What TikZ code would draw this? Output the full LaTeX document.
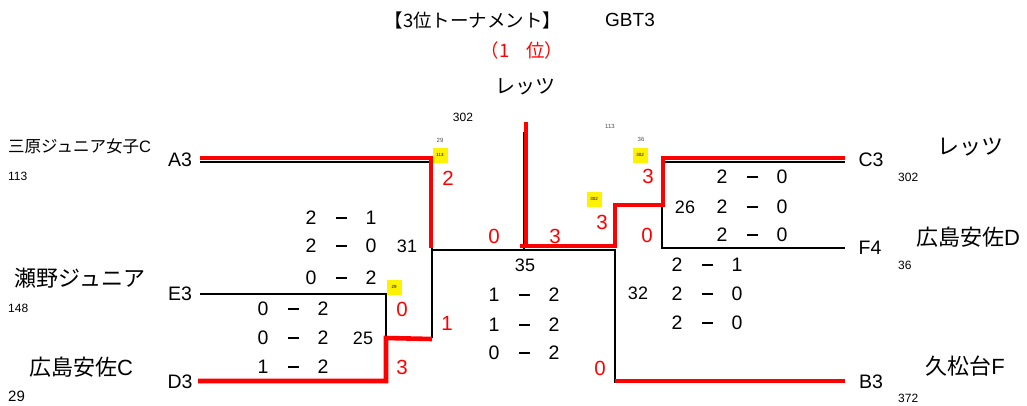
\documentclass[tikz,border=0pt]{standalone}
\usepackage{fontspec}
\setmainfont{Liberation Sans}
\newfontfamily\jp{Noto Sans CJK JP}
\newcommand\fs[1]{\fontsize{#1}{#1}\selectfont}
\newcommand\myscore[5]{%
  \node[sc] (#1a) at (#2,#3) {#4};
  \node[minusbar] (#1d) at (#2+30,#3) {};
  \node[sc] (#1b) at (#2+60,#3) {#5};}
\tikzset{
  blk/.style={line width=1.6pt, black},
  redl/.style={line width=4.6pt, red},
  sc/.style={inner sep=0pt, font=\fs{19.5}},
  minusbar/.style={inner sep=0pt, fill=black, minimum width=11pt, minimum height=1.6pt},
  team/.style={inner sep=0pt, font=\fs{19.5}},
  jname/.style={inner sep=0pt, font=\fs{22}},
  small/.style={inner sep=0pt, font=\fs{12}},
  rnum/.style={inner sep=0pt, font=\fs{20.5}, text=red},
  mnum/.style={inner sep=0pt, font=\fs{18}},
  ybox/.style={fill=yellow, minimum size=15pt, inner sep=0pt, font=\fs{4.5}},
  tiny/.style={inner sep=0pt, font=\fs{6}, text=black!70},
}
\begin{document}
\begin{tikzpicture}[x=1pt,y=-1pt]
\useasboundingbox (0,0) rectangle (1027,405);
% titles
\node[inner sep=0pt, font=\fs{18.5}] (title) at (473,20) {\jp 【3位トーナメント】};
\node[inner sep=0pt, font=\fs{19}] (gbt) at (630,20) {GBT3};
\node[inner sep=0pt, font=\fs{18.5}, text=red] (rank) at (522,50) {\jp （1\hspace{0.9em}位）};
\node[inner sep=0pt, font=\fs{20}] (winner) at (525,87) {\jp レッツ};
\node[small] (w302) at (463,117) {302};
% left teams
\node[inner sep=0pt, font=\fs{16.5}, anchor=west] (nA) at (8,146) {{\jp 三原ジュニア女子}C};
\node[small, anchor=west] (iA) at (8,176) {113};
\node[team] (A3) at (180,160) {A3};
\node[jname] (nE) at (80,278) {\jp 瀬野ジュニア};
\node[small, anchor=west] (iE) at (8,308) {148};
\node[team] (E3) at (180,294) {E3};
\node[jname] (nD) at (81,367) {{\jp 広島安佐}C};
\node[inner sep=0pt, font=\fs{15}, anchor=west] (iD) at (8,396) {29};
\node[team] (D3) at (180,382) {D3};
% right teams
\node[team] (C3) at (871,160) {C3};
\node[small, anchor=west] (iC) at (898,177) {302};
\node[jname] (nC) at (970,147) {\jp レッツ};
\node[team] (F4) at (870,248) {F4};
\node[small, anchor=west] (iF) at (898,265) {36};
\node[jname] (nF) at (968,237) {{\jp 広島安佐}D};
\node[team] (B3) at (871,382) {B3};
\node[small, anchor=west] (iB) at (898,398) {372};
\node[jname] (nB) at (965,366) {{\jp 久松台}F};
% coordinates
\coordinate (a0) at (200,162);
\coordinate (m31) at (432,250);
\coordinate (e0) at (200,294);
\coordinate (d0) at (200,381);
\coordinate (m25) at (386,338);
\coordinate (m35r) at (615,250);
\coordinate (top) at (524,132);
\coordinate (c0) at (845,162);
\coordinate (f0) at (845,248);
\coordinate (m26) at (662,204);
\coordinate (b0) at (845,381);
% black lines
\draw[blk] (a0) -| (432,338);
\draw[blk] (e0) -| (m25);
\draw[blk] (d0) -| (m25) -- (432,338);
\draw[blk] (m31) -- (m35r) -- (615,383);
\draw[blk] (top) -- (524,250);
\draw[blk] (c0) -| (662,248) -- (f0);
\draw[blk] (615,204) -- (m26);
\draw[blk] (615,381) -- (b0);
% red lines
\draw[redl] (200,158) -| (431,248);
\draw[redl] (198,381) -| (386,338) -- (432,339);
\draw[redl] (526,122) -- (526,246);
\draw[redl] (520,246) -| (615,205) -| (663,158) -- (845,158);
\draw[redl] (615,381) -- (845,381);
% yellow boxes
\node[ybox] (y1) at (440,155) {113};
\node[tiny] (t1) at (440,140) {29};
\node[ybox] (y2) at (394,287) {29};
\node[ybox] (y3) at (594,199) {302};
\node[ybox] (y4) at (640,155) {302};
\node[tiny] (t4) at (641,139) {36};
\node[tiny] (t5) at (610,126) {113};
% red scores
\node[rnum] (r1) at (448,178) {2};
\node[rnum] (r2) at (494,236) {0};
\node[rnum] (r3) at (555,236) {3};
\node[rnum] (r4) at (602,222) {3};
\node[rnum] (r5) at (648,176) {3};
\node[rnum] (r6) at (647,235) {0};
\node[rnum] (r7) at (402,309) {0};
\node[rnum] (r8) at (447,323) {1};
\node[rnum] (r9) at (402,367) {3};
\node[rnum] (r10) at (600,368) {0};
% match numbers
\node[mnum] (n31) at (407,246) {31};
\node[mnum] (n25) at (363,338) {25};
\node[mnum] (n35) at (525,265) {35};
\node[mnum] (n26) at (685,207) {26};
\node[mnum] (n32) at (638,293) {32};
% game scores
\myscore{s1}{311}{218}{2}{1}
\myscore{s2}{311}{246}{2}{0}
\myscore{s3}{311}{278}{0}{2}
\myscore{s4}{263}{309}{0}{2}
\myscore{s5}{263}{338}{0}{2}
\myscore{s6}{263}{367}{1}{2}
\myscore{s7}{494}{295}{1}{2}
\myscore{s8}{494}{325}{1}{2}
\myscore{s9}{494}{353}{0}{2}
\myscore{s10}{722}{177}{2}{0}
\myscore{s11}{722}{207}{2}{0}
\myscore{s12}{722}{235}{2}{0}
\myscore{s13}{677}{265}{2}{1}
\myscore{s14}{677}{294}{2}{0}
\myscore{s15}{677}{323}{2}{0}
\end{tikzpicture}
\end{document}
